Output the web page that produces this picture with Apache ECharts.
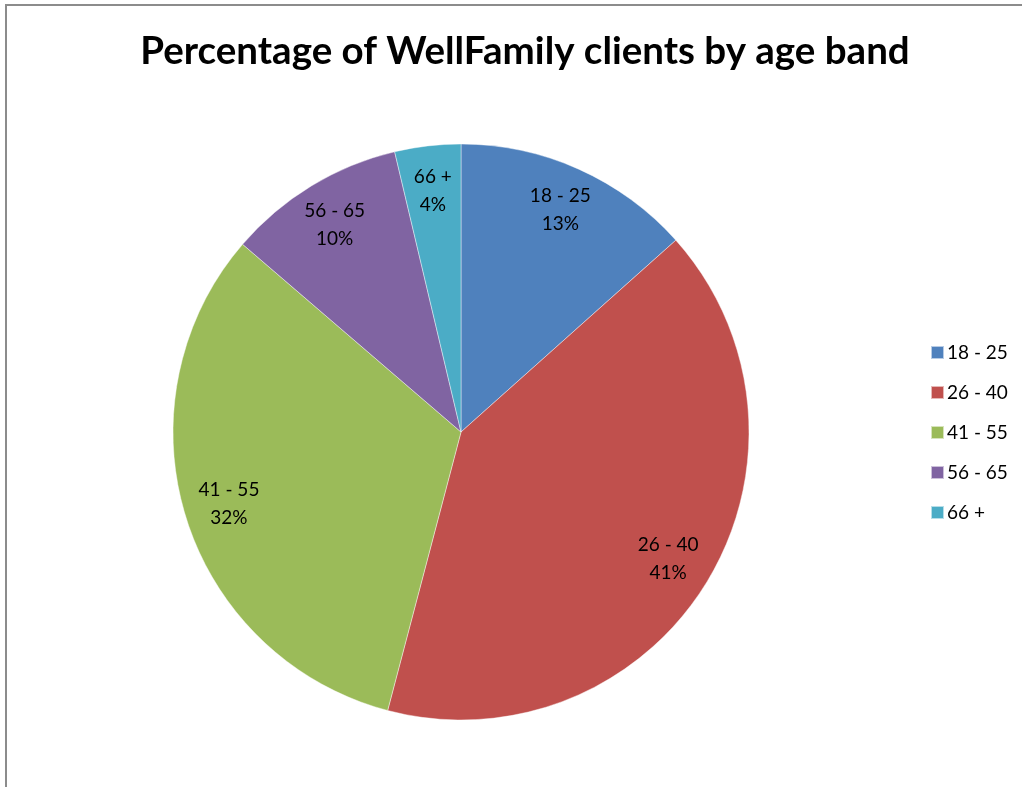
<!DOCTYPE html>
<html>
<head>
<meta charset="utf-8">
<script src="https://cdn.jsdelivr.net/npm/echarts@6/dist/echarts.min.js"></script>
<style>
html,body{margin:0;padding:0;background:#fff;}
#chart{width:1022px;height:787px;}
</style>
</head>
<body>
<div id="chart"></div>
<script>
const categories = ['18 - 25', '26 - 40', '41 - 55', '56 - 65', '66 +'];
const values = [13.4, 40.7, 32.2, 10.0, 3.7];
const colors = ['#4F81BD', '#C0504D', '#9BBB59', '#8064A2', '#4BACC6'];
const titleText = 'Percentage of WellFamily clients by age band';

const FONT = 'Lato, "Open Sans", sans-serif';
const pieData = categories.map((c, i) => ({ name: c, value: values[i], itemStyle: { color: colors[i] } }));
const labelData = categories.map((c, i) => ({ name: c, value: values[i] }));

const chart = echarts.init(document.getElementById('chart'), null, { renderer: 'canvas' });
chart.setOption({
  backgroundColor: '#fff',
  animation: false,
  title: {
    text: titleText,
    left: 520, top: 27, textAlign: 'center',
    textStyle: { fontFamily: FONT, fontWeight: 'bold', fontSize: 38.5, color: '#000' }
  },
  graphic: [{
    type: 'rect', silent: true, z: 100,
    shape: { x: 6, y: 5, width: 1100, height: 900 },
    style: { fill: 'none', stroke: '#8c8c8c', lineWidth: 2 }
  }],
  legend: {
    orient: 'vertical', left: 925, top: 338,
    itemWidth: 13, itemHeight: 13, itemGap: 21,
    icon: 'rect',
    data: categories,
    textStyle: { fontFamily: FONT, fontSize: 19, color: '#000', padding: [0, 0, 0, -2] }
  },
  series: [{
    type: 'pie',
    center: [461, 432], radius: [0, 288],
    startAngle: 90, clockwise: true,
    label: { show: false }, labelLine: { show: false },
    itemStyle: { borderColor: 'rgba(255,255,255,0.6)', borderWidth: 0.7 },
    emphasis: { disabled: true },
    data: pieData
  }, {
    type: 'pie',
    center: [461, 432], radius: [180, 300],
    startAngle: 90, clockwise: true, silent: true,
    percentPrecision: 0,
    itemStyle: { color: 'rgba(0,0,0,0)' },
    label: {
      show: true, position: 'inside',
      formatter: '{b}\n{d}%',
      fontFamily: FONT, fontSize: 19, color: '#000', lineHeight: 28, align: 'center'
    },
    labelLine: { show: false },
    emphasis: { disabled: true },
    data: labelData
  }]
});
</script>
</body>
</html>
